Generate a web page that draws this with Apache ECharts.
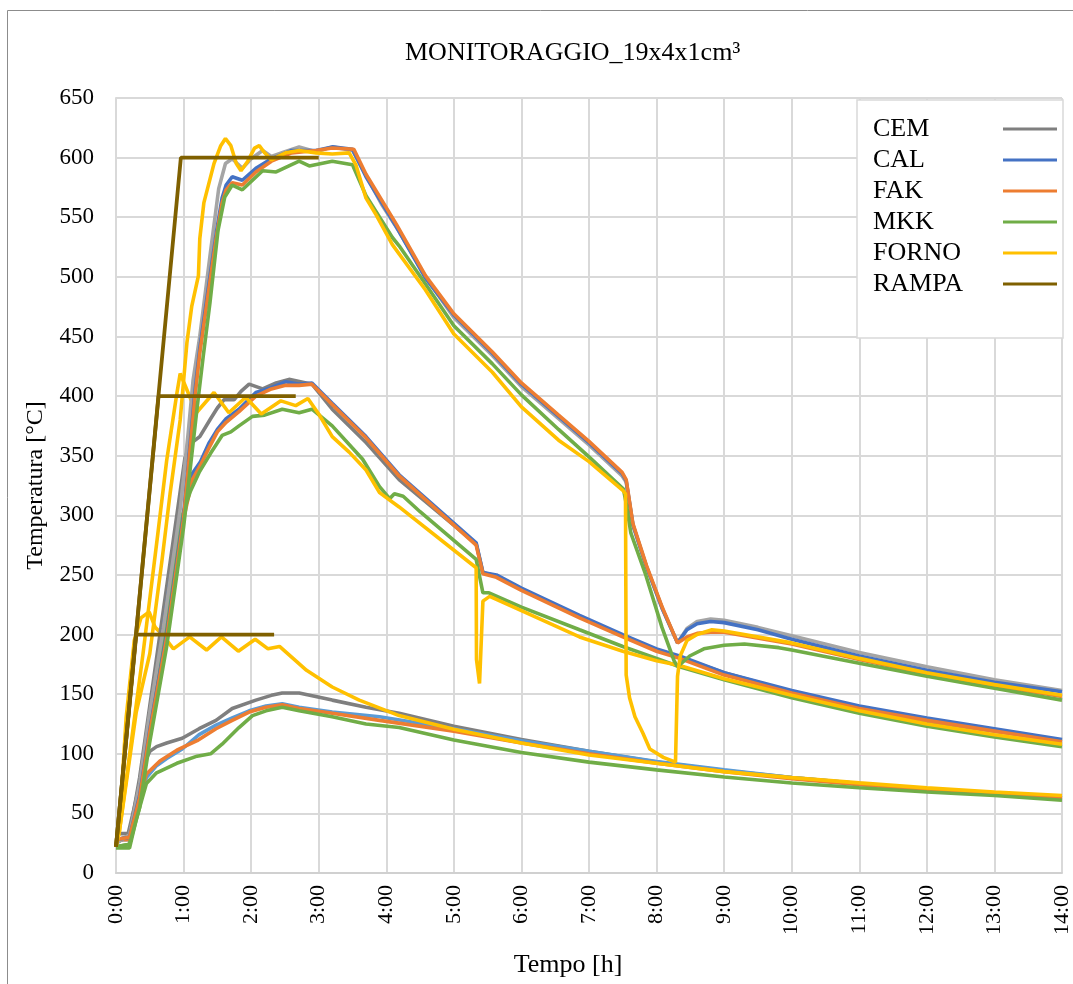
<!DOCTYPE html>
<html>
<head>
<meta charset="utf-8">
<script src="https://cdn.jsdelivr.net/npm/echarts@6/dist/echarts.min.js"></script>
<style>html,body{margin:0;padding:0;background:#fff}#c{width:1073px;height:984px}</style>
</head>
<body>
<div id="c"></div>
<script>
// ---- data: [time (h), temperature (°C)] ----
const legendNames = ['CEM', 'CAL', 'FAK', 'MKK', 'FORNO', 'RAMPA'];
const xTicks = [0,1,2,3,4,5,6,7,8,9,10,11,12,13,14];

// Run 200 °C
const cem200 = [[0,33],[0.18,33],[0.3,62],[0.4,90],[0.5,102],[0.6,106],[0.75,109],[0.98,113],[1.23,121],[1.48,128],[1.72,138],[2.07,145],[2.3,149],[2.46,151],[2.71,151],[3.2,145],[3.7,139],[4.19,134],[5,123],[6,112],[7,102],[8,93],[9,86],[10,80],[11,75],[12,70],[13,66],[14,63]];
const cal200 = [[0,28],[0.2,28],[0.3,50],[0.45,80],[0.6,90],[0.75,96],[0.98,104],[1.23,116],[1.48,124],[1.72,130],[1.97,136],[2.22,140],[2.46,142],[2.71,139],[3.2,135],[3.9,131],[5,121],[6,111],[7,102],[8,93.5],[9,86.5],[10,80],[11,75],[12,70],[13,66],[14,63]];
const fak200 = [[0,28],[0.2,28],[0.3,55],[0.45,83],[0.65,94],[0.9,103],[1.2,111],[1.48,121],[1.72,128],[1.97,135],[2.22,139],[2.46,141],[2.71,138],[3.2,134],[3.9,128],[5,119],[6,109],[7,100],[8,92],[9,85],[10,79],[11,74],[12,70],[13,66],[14,63]];
const mkk200 = [[0,21],[0.2,21],[0.3,45],[0.45,75],[0.6,84],[0.9,92],[1.2,98],[1.4,100],[1.57,108],[1.82,122],[2.02,132],[2.22,136],[2.46,139],[2.71,136],[3.2,131],[3.7,125],[4.19,122],[5,111.5],[6,101],[7,93],[8,86.5],[9,80.5],[10,75.5],[11,71.5],[12,68],[13,65],[14,61]];
const forno200 = [[0,22],[0.05,40],[0.15,130],[0.27,195],[0.37,214],[0.49,219],[0.58,206],[0.67,201],[0.85,188],[1.09,198],[1.34,187],[1.56,198],[1.81,186],[2.06,196],[2.25,188],[2.42,190],[2.82,170],[3.2,156],[3.6,145],[4.19,132],[5,120.5],[6,109],[7,99],[8,92],[9,85],[10,80],[11,75.6],[12,71.4],[13,68],[14,65]];
const rampa200 = [[0,22],[0.3,200],[2.34,200]];

// Run 400 °C
const cem400 = [[0,25],[0.2,32],[0.35,80],[0.5,140],[0.65,200],[0.8,260],[0.95,320],[1.02,348],[1.1,360],[1.24,366],[1.4,381],[1.5,390],[1.6,397],[1.75,397],[1.85,404],[1.97,410],[2.17,406],[2.37,411],[2.56,414],[2.9,410],[3.2,389],[3.7,361],[4.19,330],[5.33,276],[5.43,252],[5.63,249],[6,238],[6.86,215],[7.5,199],[8,187],[8.34,181],[9,168],[10,152],[11,139],[12,127],[13,119],[14,111]];
const cal400 = [[0,28],[0.2,30],[0.35,70],[0.5,125],[0.65,185],[0.8,245],[1.0,300],[1.13,335],[1.25,345],[1.38,361],[1.5,372],[1.63,381],[1.82,389],[2.07,403],[2.3,407],[2.51,412],[2.71,410],[2.9,411],[3.2,394],[3.7,366],[4.19,334],[5.33,277],[5.43,252],[5.63,250],[6,239],[6.86,216],[7.5,200],[8,188],[8.34,182],[9,168],[10,153],[11,140],[12,130],[13,121],[14,112]];
const fak400 = [[0,28],[0.2,30],[0.35,68],[0.5,122],[0.65,182],[0.8,242],[1.0,297],[1.13,330],[1.25,342],[1.38,357],[1.5,370],[1.63,378],[1.82,387],[2.07,400],[2.3,406],[2.51,409],[2.71,409],[2.9,410],[3.2,393],[3.7,365],[4.19,333],[5.33,275],[5.43,251],[5.63,248],[6,237],[6.86,214],[7.5,198],[8,186],[8.34,180],[9,166],[10,151],[11,138],[12,128],[13,119],[14,110]];
const mkk400 = [[0,22],[0.2,24],[0.35,60],[0.5,115],[0.65,175],[0.8,235],[0.98,300],[1.1,320],[1.23,336],[1.4,352],[1.57,367],[1.7,370],[1.82,375],[2.02,383],[2.2,384],[2.46,389],[2.71,386],[2.9,389],[3.2,375],[3.65,347],[3.9,324],[4.05,314],[4.12,318],[4.25,316],[4.5,303],[5.33,263],[5.43,235],[5.52,235],[6,223],[6.86,204],[7.5,190],[8,180],[8.34,173],[9,162],[10,147],[11,134],[12,123],[13,114],[14,106]];
const forno400 = [[0,22],[0.05,35],[0.25,120],[0.4,184],[0.62,285],[0.75,346],[0.9,402],[0.95,419],[1.0,412],[1.19,386],[1.45,403],[1.67,386],[1.92,399],[2.15,385],[2.44,396],[2.66,392],[2.84,398],[3.0,385],[3.2,366],[3.45,353],[3.7,338],[3.9,319],[4.19,307],[5.33,256],[5.335,179],[5.38,159],[5.43,228],[5.53,232],[6,220],[6.86,198],[7.5,186],[8,178],[8.34,174],[9,163],[10,149],[11,136],[12,125],[13,116],[14,108]];
const rampa400 = [[0,22],[0.63,400],[2.66,400]];

// Run 600 °C
const cem600 = [[0,25],[0.2,32],[0.35,75],[0.5,135],[0.7,205],[0.95,305],[1.07,370],[1.14,413],[1.24,450],[1.39,517],[1.52,574],[1.62,595],[1.72,599],[1.87,591],[2.0,599],[2.17,606],[2.3,601],[2.5,605],[2.71,609],[2.96,605],[3.2,609],[3.5,606],[3.7,585],[3.94,560],[4.19,538],[4.58,500],[5,466],[5.57,434],[6,408],[6.55,381],[7,359],[7.49,333],[7.55,328],[7.65,292],[7.85,257],[8.09,221],[8.31,193],[8.45,205],[8.6,211],[8.8,213],[9,212],[9.5,206],[10,199],[11,185],[12,173],[13,162],[14,153]];
const cal600 = [[0,28],[0.2,30],[0.35,65],[0.5,120],[0.75,200],[1.0,300],[1.17,405],[1.24,440],[1.38,496],[1.49,539],[1.57,566],[1.63,577],[1.72,584],[1.87,581],[2.07,591],[2.3,599],[2.6,606],[2.96,606],[3.2,609],[3.5,607],[3.7,584],[4.15,542],[4.58,499],[5,468],[5.57,436],[6,410],[6.55,383],[7,361],[7.49,335],[7.55,329],[7.65,292],[7.85,257],[8.09,221],[8.31,193],[8.45,204],[8.6,209],[8.8,211],[9,210],[9.5,204],[10,196],[11,182],[12,170],[13,160],[14,152]];
const fak600 = [[0,28],[0.2,30],[0.35,63],[0.5,118],[0.75,197],[1.0,297],[1.17,400],[1.24,436],[1.38,492],[1.49,535],[1.57,562],[1.63,573],[1.72,579],[1.87,577],[2.07,588],[2.3,597],[2.6,604],[2.96,606],[3.2,608],[3.52,607],[3.7,586],[4.15,544],[4.58,501],[5,469],[5.57,437],[6,411],[6.55,384],[7,362],[7.49,336],[7.55,330],[7.65,293],[7.85,258],[8.09,222],[8.31,193],[8.45,198],[8.6,201],[8.8,202],[9,202],[10,192],[11,179],[12,167],[13,157],[14,148]];
const mkk600 = [[0,22],[0.2,24],[0.35,55],[0.5,110],[0.75,190],[1.0,290],[1.2,390],[1.29,433],[1.39,478],[1.51,539],[1.61,567],[1.72,577],[1.87,573],[2.17,589],[2.37,588],[2.71,597],[2.86,593],[3.2,597],[3.5,594],[3.7,568],[4.09,533],[4.19,526],[4.58,494],[5,459],[5.57,427],[6,401],[6.55,372],[7,349],[7.51,322],[7.55,310],[7.62,285],[7.84,250],[8.08,206],[8.26,178],[8.31,173],[8.49,182],[8.7,188],[9,191],[9.3,192],[9.81,189],[10,187],[11,176],[12,165],[13,155],[14,145]];
const forno600 = [[0,22],[0.05,35],[0.3,135],[0.5,184],[0.68,262],[0.8,318],[0.95,380],[1.05,445],[1.12,475],[1.22,501],[1.24,532],[1.3,562],[1.45,595],[1.55,610],[1.62,616],[1.7,610],[1.78,595],[1.85,589],[1.95,597],[2.05,608],[2.12,610],[2.2,604],[2.3,598],[2.4,601],[2.51,604],[2.71,606],[2.96,604],[3.2,603],[3.45,604],[3.55,594],[3.7,566],[3.85,552],[4.09,527],[4.58,489],[5,452],[5.57,420],[6,391],[6.55,363],[7,345],[7.5,321],[7.54,318],[7.55,166],[7.6,147],[7.68,131],[7.8,117],[7.9,104],[8.1,97],[8.28,93],[8.31,165],[8.35,182],[8.45,195],[8.6,200],[8.82,204],[9.0,203],[10,193],[11,180],[12,168],[13,158],[14,149]];
const rampa600 = [[0,22],[0.96,600],[3.0,600]];

const colors = {
  CEM: '#7f7f7f', CEM600: '#a5a5a5',
  CAL: '#4472c4', CAL200: '#5b9bd5',
  FAK: '#ed7d31', MKK: '#70ad47', FORNO: '#ffc000', RAMPA: '#7f6000'
};

function line(name, data, color, width) {
  return {
    name: name, type: 'line', data: data,
    symbol: 'none', showSymbol: false,
    lineStyle: { color: color, width: width || 3.6 },
    itemStyle: { color: color },
    emphasis: { disabled: true },
    silent: true
  };
}

const series = [
  line('CEM', cem200, colors.CEM), line('CAL', cal200, colors.CAL200), line('FAK', fak200, colors.FAK),
  line('MKK', mkk200, colors.MKK), line('FORNO', forno200, colors.FORNO),
  line('CEM', cem400, colors.CEM), line('CAL', cal400, colors.CAL), line('FAK', fak400, colors.FAK),
  line('MKK', mkk400, colors.MKK), line('FORNO', forno400, colors.FORNO),
  line('CEM', cem600, colors.CEM600), line('CAL', cal600, colors.CAL), line('FAK', fak600, colors.FAK),
  line('MKK', mkk600, colors.MKK), line('FORNO', forno600, colors.FORNO),
  line('RAMPA', rampa200, colors.RAMPA, 3.8), line('RAMPA', rampa400, colors.RAMPA, 3.8), line('RAMPA', rampa600, colors.RAMPA, 3.8)
];

const legendColor = { CEM: colors.CEM, CAL: colors.CAL, FAK: colors.FAK, MKK: colors.MKK, FORNO: colors.FORNO, RAMPA: colors.RAMPA };
const FONT = '"Liberation Serif", "Times New Roman", serif';

const chart = echarts.init(document.getElementById('c'), null, { renderer: 'canvas' });
chart.setOption({
  animation: false,
  backgroundColor: '#ffffff',
  title: {
    text: 'MONITORAGGIO_19x4x1cm³',
    left: 405, top: 40, padding: 0,
    textStyle: { fontFamily: FONT, fontSize: 26, fontWeight: 'normal', color: '#000' }
  },
  graphic: [{
    type: 'rect', silent: true, z: -1,
    shape: { x: 7.5, y: 10.5, width: 1070, height: 990 },
    style: { fill: null, stroke: '#8c8c8c', lineWidth: 1 }
  }],
  legend: {
    data: legendNames.map(n => ({ name: n, itemStyle: { color: legendColor[n] } })),
    orient: 'vertical', align: 'right',
    left: 857, top: 100,
    padding: [16, 6, 41, 16],
    backgroundColor: '#fff', borderColor: '#d9d9d9', borderWidth: 1.5,
    icon: 'rect', itemWidth: 54, itemHeight: 3, itemGap: 5,
    selectedMode: false,
    formatter: n => '{t|' + n + '}',
    textStyle: {
      fontFamily: FONT, fontSize: 26, color: '#000', lineHeight: 26,
      rich: { t: { fontFamily: FONT, fontSize: 26, color: '#000', width: 125, align: 'left', lineHeight: 26 } }
    }
  },
  grid: { left: 116, right: 10, top: 98, bottom: 111, containLabel: false },
  xAxis: {
    type: 'value', min: 0, max: 14, interval: 1,
    name: 'Tempo [h]', nameLocation: 'middle', nameGap: 79,
    nameTextStyle: { fontFamily: FONT, fontSize: 26, color: '#000', padding: [0, 42, 0, 0] },
    axisLine: { show: true, lineStyle: { color: '#d0d0d0', width: 2 } },
    axisTick: { show: false },
    splitLine: { show: true, lineStyle: { color: '#d9d9d9', width: 2 } },
    axisLabel: {
      rotate: 90, margin: 12,
      fontFamily: FONT, fontSize: 22, color: '#000',
      formatter: v => xTicks.includes(v) ? v + ':00' : ''
    }
  },
  yAxis: {
    type: 'value', min: 0, max: 650, interval: 50,
    name: 'Temperatura [°C]', nameLocation: 'middle', nameGap: 68,
    nameTextStyle: { fontFamily: FONT, fontSize: 24, color: '#000' },
    axisLine: { show: true, lineStyle: { color: '#d9d9d9', width: 2 } },
    axisTick: { show: false },
    splitLine: { show: true, lineStyle: { color: '#d9d9d9', width: 2 } },
    axisLabel: { margin: 22, fontFamily: FONT, fontSize: 23, color: '#000' }
  },
  series: series
});
</script>
</body>
</html>
